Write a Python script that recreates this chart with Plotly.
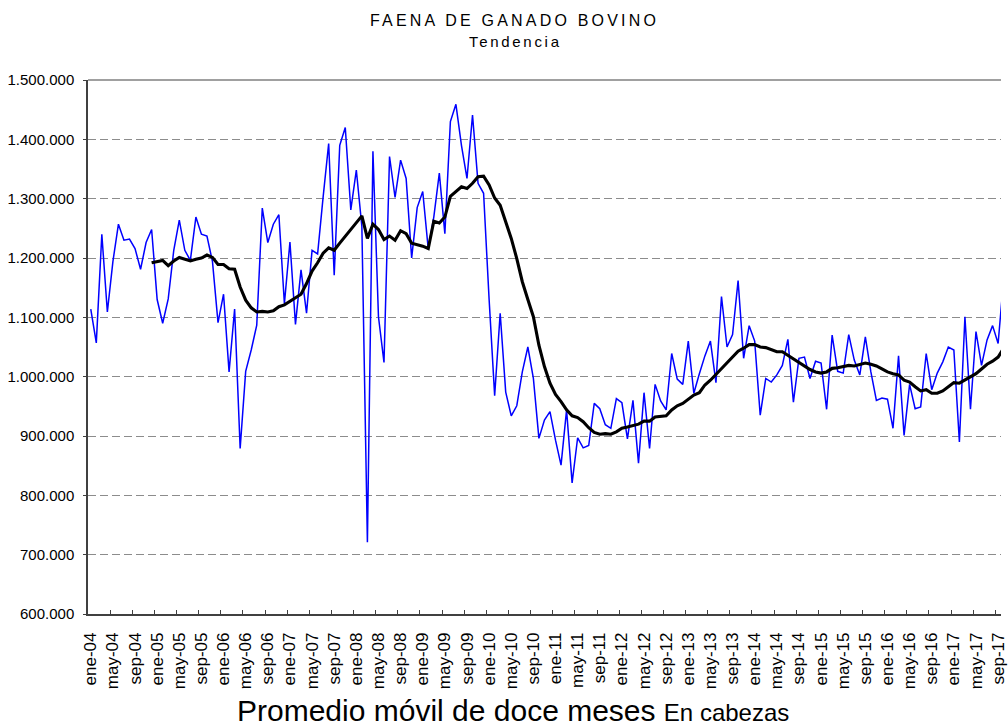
import plotly.graph_objects as go

# ---------------- data (cabezas) ----------------
months_es = ["ene", "feb", "mar", "abr", "may", "jun", "jul", "ago", "sep", "oct", "nov", "dic"]
start_year = 2004

faena_k = [
    1114, 1057, 1240, 1109, 1194, 1257, 1230, 1232, 1216, 1181, 1226, 1248,   # 2004
    1130, 1090, 1131, 1213, 1264, 1213, 1196, 1269, 1240, 1237, 1194, 1091,   # 2005
    1139, 1008, 1114, 879, 1009, 1045, 1087, 1284, 1226, 1257, 1273, 1123,    # 2006
    1227, 1088, 1180, 1107, 1213, 1207, 1303, 1393, 1171, 1390, 1420, 1281,   # 2007
    1348, 1253, 721, 1380, 1101, 1024, 1371, 1302, 1365, 1334, 1200, 1285,    # 2008
    1312, 1215, 1269, 1343, 1241, 1430, 1459, 1390, 1334, 1441, 1326, 1309,   # 2009
    1130, 968, 1107, 974, 934, 951, 1008, 1050, 997, 896, 927, 941,           # 2010
    893, 851, 944, 821, 897, 880, 884, 955, 946, 919, 913, 963,               # 2011
    956, 895, 960, 854, 973, 879, 987, 959, 944, 1039, 996, 987,              # 2012
    1060, 972, 1005, 1035, 1060, 990, 1135, 1050, 1071, 1162, 1031, 1086,     # 2013
    1060, 935, 997, 991, 1003, 1019, 1063, 957, 1031, 1033, 997, 1026,        # 2014
    1023, 945, 1070, 1009, 1006, 1071, 1028, 1003, 1067, 1008, 960, 964,      # 2015
    962, 913, 1035, 901, 987, 946, 949, 1039, 978, 1006, 1025, 1050,          # 2016
    1045, 890, 1101, 945, 1076, 1019, 1062, 1086, 1056, 1165,                 # 2017
]

promedio_movil_k = [None] * 11 + [
    1192,                                                                     # dic-04
    1194, 1196, 1187, 1195, 1201, 1198, 1195, 1198, 1200, 1205, 1201, 1189,   # 2005
    1189, 1182, 1181, 1151, 1129, 1116, 1109, 1110, 1109, 1111, 1118, 1121,   # 2006
    1127, 1134, 1139, 1157, 1178, 1192, 1208, 1217, 1213, 1225, 1236, 1248,   # 2007
    1259, 1271, 1233, 1257, 1248, 1231, 1237, 1230, 1246, 1241, 1225, 1223,   # 2008
    1220, 1216, 1262, 1259, 1269, 1304, 1312, 1320, 1317, 1326, 1337, 1338,   # 2009
    1323, 1301, 1289, 1261, 1233, 1199, 1160, 1130, 1101, 1053, 1017, 989,    # 2010
    970, 958, 944, 934, 931, 924, 914, 906, 903, 904, 903, 907,               # 2011
    913, 915, 917, 920, 925, 925, 932, 933, 934, 944, 951, 955,               # 2012
    962, 969, 973, 986, 994, 1004, 1014, 1023, 1033, 1043, 1048, 1054,        # 2013
    1054, 1050, 1049, 1046, 1042, 1042, 1036, 1029, 1024, 1017, 1012, 1008,   # 2014
    1006, 1008, 1014, 1015, 1017, 1019, 1018, 1021, 1023, 1021, 1018, 1013,   # 2015
    1008, 1005, 1003, 994, 991, 983, 976, 978, 972, 972, 976, 983,            # 2016
    990, 989, 994, 999, 1005, 1013, 1021, 1026, 1033, 1048,                   # 2017
]

faena = [v * 1000 for v in faena_k]
promedio_movil = [None if v is None else v * 1000 for v in promedio_movil_k]

periods = [f"{months_es[i % 12]}-{(start_year + i // 12) % 100:02d}" for i in range(len(faena))]
idx = list(range(len(faena)))
tick_idx = idx[::4][:42]
tick_text = [periods[i] for i in tick_idx]
boundary_ticks = [i - 0.5 for i in tick_idx]

FONT = "Liberation Sans, Arial, sans-serif"
x_range = [-0.5, 164.52]

fig = go.Figure()
fig.add_trace(go.Scatter(x=idx, y=faena, mode="lines", text=periods,
                         line=dict(color="#0000FF", width=1.5), showlegend=False))
fig.add_trace(go.Scatter(x=idx, y=promedio_movil, mode="lines", text=periods,
                         line=dict(color="#000000", width=3.1), showlegend=False))
fig.add_trace(go.Scatter(x=[], y=[], xaxis="x2", showlegend=False, hoverinfo="skip"))

fig.update_layout(
    width=1008, height=727,
    margin=dict(l=88, r=0, t=80, b=113),
    paper_bgcolor="white", plot_bgcolor="white",
    separators=",.",
    font=dict(family=FONT, color="black"),
    showlegend=False,
    xaxis=dict(
        range=x_range, tickmode="array", tickvals=tick_idx, ticktext=tick_text,
        tickangle=-90, ticks="", showgrid=False, zeroline=False,
        showline=True, linecolor="#404040", linewidth=1.5,
        tickfont=dict(family=FONT, size=17, color="black"),
        ticklabelstandoff=10, ticklabeloverflow="allow",
    ),
    xaxis2=dict(
        overlaying="x", anchor="y", side="bottom", range=x_range,
        tickmode="array", tickvals=boundary_ticks, ticks="inside", ticklen=4,
        tickcolor="#404040", tickwidth=1, showticklabels=False,
        showgrid=False, zeroline=False, showline=False,
    ),
    yaxis=dict(
        range=[600000, 1500000], tick0=600000, dtick=100000, tickformat=",d",
        showgrid=True, gridcolor="#8c8c8c", gridwidth=1, griddash="8px,4px",
        zeroline=False, showline=True, linecolor="#404040", linewidth=1.5,
        ticks="outside", ticklen=3, tickcolor="#404040",
        tickfont=dict(family=FONT, size=15, color="black"),
        ticklabelstandoff=6,
    ),
    shapes=[dict(type="line", xref="paper", yref="paper", x0=0, x1=1, y0=1, y1=1,
                 line=dict(color="#808080", width=1.5))],
    annotations=[
        dict(text='<span style="letter-spacing:3.2px">FAENA DE GANADO BOVINO</span>',
             xref="paper", yref="paper", x=0.4674, y=1.1105, xanchor="center", yanchor="middle",
             showarrow=False, font=dict(family=FONT, size=16, color="black")),
        dict(text='<span style="letter-spacing:2.7px">Tendencia</span>',
             xref="paper", yref="paper", x=0.4685, y=1.0712, xanchor="center", yanchor="middle",
             showarrow=False, font=dict(family=FONT, size=15, color="black")),
        dict(text='Promedio móvil de doce meses <span style="font-size:24px">En cabezas</span>',
             xref="paper", yref="paper", x=0.4652, y=-0.1800, xanchor="center", yanchor="middle",
             showarrow=False, font=dict(family=FONT, size=30, color="black")),
    ],
)

fig.write_html(
    "out.html",
    config={"displayModeBar": False},
    post_script="document.body.style.margin='0';document.body.style.overflow='hidden';",
)
